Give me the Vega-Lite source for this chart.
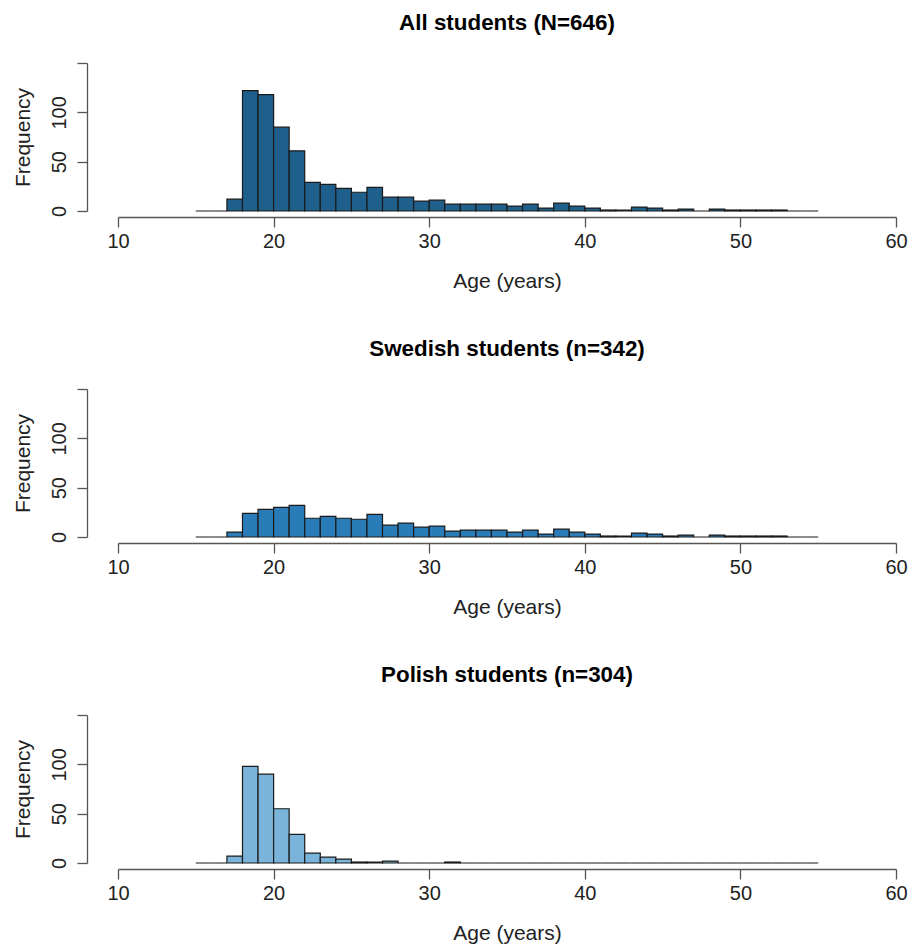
{
  "$schema": "https://vega.github.io/schema/vega-lite/v6.json",
  "padding": {"left": 12, "top": 11, "right": 5, "bottom": 5},
  "background": "white",
  "config": {
    "font": "Liberation Sans",
    "view": {"stroke": null},
    "title": {"fontSize": 22.4, "fontWeight": "bold", "color": "#000000", "anchor": "middle", "offset": 28},
    "axis": {
      "grid": false,
      "domainColor": "#555555",
      "tickColor": "#555555",
      "labelColor": "#222222",
      "titleColor": "#222222",
      "labelFontSize": 20,
      "titleFontSize": 21,
      "titleFontWeight": "normal",
      "tickSize": 10,
      "domainWidth": 1.3,
      "tickWidth": 1.3
    },
    "axisX": {"offset": 6, "labelPadding": 4.5, "titlePadding": 19, "labelFlush": false},
    "axisY": {"offset": 31, "labelAngle": -90, "labelAlign": "center", "labelBaseline": "alphabetic", "labelPadding": 12, "titlePadding": 16}
  },
  "datasets": {
    "all": [
      {"start": 15, "end": 16, "count": 0}, {"start": 16, "end": 17, "count": 0}, {"start": 17, "end": 18, "count": 12},
      {"start": 18, "end": 19, "count": 122}, {"start": 19, "end": 20, "count": 118}, {"start": 20, "end": 21, "count": 85},
      {"start": 21, "end": 22, "count": 61}, {"start": 22, "end": 23, "count": 29}, {"start": 23, "end": 24, "count": 27},
      {"start": 24, "end": 25, "count": 23}, {"start": 25, "end": 26, "count": 19}, {"start": 26, "end": 27, "count": 24},
      {"start": 27, "end": 28, "count": 14}, {"start": 28, "end": 29, "count": 14}, {"start": 29, "end": 30, "count": 10},
      {"start": 30, "end": 31, "count": 11}, {"start": 31, "end": 32, "count": 7}, {"start": 32, "end": 33, "count": 7},
      {"start": 33, "end": 34, "count": 7}, {"start": 34, "end": 35, "count": 7}, {"start": 35, "end": 36, "count": 5},
      {"start": 36, "end": 37, "count": 7}, {"start": 37, "end": 38, "count": 3}, {"start": 38, "end": 39, "count": 8},
      {"start": 39, "end": 40, "count": 5}, {"start": 40, "end": 41, "count": 3}, {"start": 41, "end": 42, "count": 1},
      {"start": 42, "end": 43, "count": 1}, {"start": 43, "end": 44, "count": 4}, {"start": 44, "end": 45, "count": 3},
      {"start": 45, "end": 46, "count": 1}, {"start": 46, "end": 47, "count": 2}, {"start": 47, "end": 48, "count": 0},
      {"start": 48, "end": 49, "count": 2}, {"start": 49, "end": 50, "count": 1}, {"start": 50, "end": 51, "count": 1},
      {"start": 51, "end": 52, "count": 1}, {"start": 52, "end": 53, "count": 1}, {"start": 53, "end": 54, "count": 0},
      {"start": 54, "end": 55, "count": 0}
    ],
    "swedish": [
      {"start": 15, "end": 16, "count": 0}, {"start": 16, "end": 17, "count": 0}, {"start": 17, "end": 18, "count": 5},
      {"start": 18, "end": 19, "count": 24}, {"start": 19, "end": 20, "count": 28}, {"start": 20, "end": 21, "count": 30},
      {"start": 21, "end": 22, "count": 32}, {"start": 22, "end": 23, "count": 19}, {"start": 23, "end": 24, "count": 21},
      {"start": 24, "end": 25, "count": 19}, {"start": 25, "end": 26, "count": 18}, {"start": 26, "end": 27, "count": 23},
      {"start": 27, "end": 28, "count": 12}, {"start": 28, "end": 29, "count": 14}, {"start": 29, "end": 30, "count": 10},
      {"start": 30, "end": 31, "count": 11}, {"start": 31, "end": 32, "count": 6}, {"start": 32, "end": 33, "count": 7},
      {"start": 33, "end": 34, "count": 7}, {"start": 34, "end": 35, "count": 7}, {"start": 35, "end": 36, "count": 5},
      {"start": 36, "end": 37, "count": 7}, {"start": 37, "end": 38, "count": 3}, {"start": 38, "end": 39, "count": 8},
      {"start": 39, "end": 40, "count": 5}, {"start": 40, "end": 41, "count": 3}, {"start": 41, "end": 42, "count": 1},
      {"start": 42, "end": 43, "count": 1}, {"start": 43, "end": 44, "count": 4}, {"start": 44, "end": 45, "count": 3},
      {"start": 45, "end": 46, "count": 1}, {"start": 46, "end": 47, "count": 2}, {"start": 47, "end": 48, "count": 0},
      {"start": 48, "end": 49, "count": 2}, {"start": 49, "end": 50, "count": 1}, {"start": 50, "end": 51, "count": 1},
      {"start": 51, "end": 52, "count": 1}, {"start": 52, "end": 53, "count": 1}, {"start": 53, "end": 54, "count": 0},
      {"start": 54, "end": 55, "count": 0}
    ],
    "polish": [
      {"start": 15, "end": 16, "count": 0}, {"start": 16, "end": 17, "count": 0}, {"start": 17, "end": 18, "count": 7},
      {"start": 18, "end": 19, "count": 98}, {"start": 19, "end": 20, "count": 90}, {"start": 20, "end": 21, "count": 55},
      {"start": 21, "end": 22, "count": 29}, {"start": 22, "end": 23, "count": 10}, {"start": 23, "end": 24, "count": 6},
      {"start": 24, "end": 25, "count": 4}, {"start": 25, "end": 26, "count": 1}, {"start": 26, "end": 27, "count": 1},
      {"start": 27, "end": 28, "count": 2}, {"start": 28, "end": 29, "count": 0}, {"start": 29, "end": 30, "count": 0},
      {"start": 30, "end": 31, "count": 0}, {"start": 31, "end": 32, "count": 1}, {"start": 32, "end": 33, "count": 0},
      {"start": 33, "end": 34, "count": 0}, {"start": 34, "end": 35, "count": 0}, {"start": 35, "end": 36, "count": 0},
      {"start": 36, "end": 37, "count": 0}, {"start": 37, "end": 38, "count": 0}, {"start": 38, "end": 39, "count": 0},
      {"start": 39, "end": 40, "count": 0}, {"start": 40, "end": 41, "count": 0}, {"start": 41, "end": 42, "count": 0},
      {"start": 42, "end": 43, "count": 0}, {"start": 43, "end": 44, "count": 0}, {"start": 44, "end": 45, "count": 0},
      {"start": 45, "end": 46, "count": 0}, {"start": 46, "end": 47, "count": 0}, {"start": 47, "end": 48, "count": 0},
      {"start": 48, "end": 49, "count": 0}, {"start": 49, "end": 50, "count": 0}, {"start": 50, "end": 51, "count": 0},
      {"start": 51, "end": 52, "count": 0}, {"start": 52, "end": 53, "count": 0}, {"start": 53, "end": 54, "count": 0},
      {"start": 54, "end": 55, "count": 0}
    ]
  },
  "spacing": 45,
  "vconcat": [
    {
      "title": "All students (N=646)",
      "width": 778, "height": 148,
      "data": {"name": "all"},
      "mark": {"type": "rect", "fill": "#1f5f8b", "stroke": "#1a1a1a", "strokeWidth": 1.2},
      "encoding": {
        "x": {"field": "start", "type": "quantitative", "scale": {"domain": [10, 60], "nice": false, "zero": false}, "axis": {"title": "Age (years)", "values": [10, 20, 30, 40, 50, 60]}},
        "x2": {"field": "end"},
        "y": {"field": "count", "type": "quantitative", "scale": {"domain": [0, 150], "nice": false}, "axis": {"title": "Frequency", "values": [0, 50, 100, 150], "labelExpr": "datum.value == 150 ? '' : datum.label"}},
        "y2": {"datum": 0}
      }
    },
    {
      "title": "Swedish students (n=342)",
      "width": 778, "height": 148,
      "data": {"name": "swedish"},
      "mark": {"type": "rect", "fill": "#2a7cb9", "stroke": "#1a1a1a", "strokeWidth": 1.2},
      "encoding": {
        "x": {"field": "start", "type": "quantitative", "scale": {"domain": [10, 60], "nice": false, "zero": false}, "axis": {"title": "Age (years)", "values": [10, 20, 30, 40, 50, 60]}},
        "x2": {"field": "end"},
        "y": {"field": "count", "type": "quantitative", "scale": {"domain": [0, 150], "nice": false}, "axis": {"title": "Frequency", "values": [0, 50, 100, 150], "labelExpr": "datum.value == 150 ? '' : datum.label"}},
        "y2": {"datum": 0}
      }
    },
    {
      "title": "Polish students (n=304)",
      "width": 778, "height": 148,
      "data": {"name": "polish"},
      "mark": {"type": "rect", "fill": "#7bb4da", "stroke": "#1a1a1a", "strokeWidth": 1.2},
      "encoding": {
        "x": {"field": "start", "type": "quantitative", "scale": {"domain": [10, 60], "nice": false, "zero": false}, "axis": {"title": "Age (years)", "values": [10, 20, 30, 40, 50, 60]}},
        "x2": {"field": "end"},
        "y": {"field": "count", "type": "quantitative", "scale": {"domain": [0, 150], "nice": false}, "axis": {"title": "Frequency", "values": [0, 50, 100, 150], "labelExpr": "datum.value == 150 ? '' : datum.label"}},
        "y2": {"datum": 0}
      }
    }
  ]
}
